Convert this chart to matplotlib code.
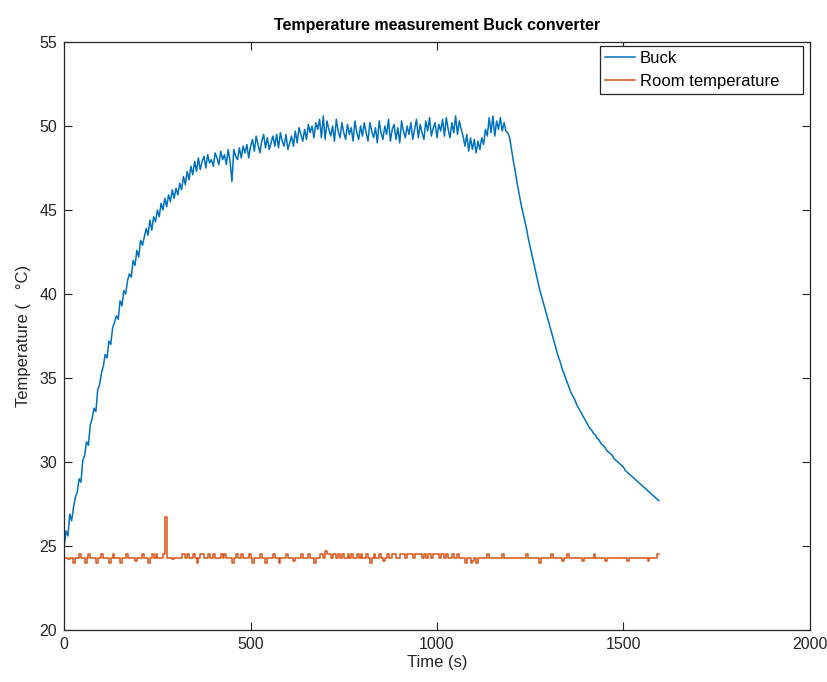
import numpy as np
import matplotlib.pyplot as plt

plt.rcParams['font.family'] = ['Liberation Sans', 'DejaVu Sans']

# logged every 5 s
dt = 5

buck = [
    25.0, 25.9, 25.6, 26.9, 26.5, 27.3, 27.9, 28.2, 29.0, 28.8, 30.1, 30.4, 31.2, 31.0, 32.2, 32.6, 33.2, 33.0, 34.3, 34.6,
    35.3, 35.7, 36.4, 36.2, 37.2, 37.0, 38.0, 38.3, 38.7, 38.5, 39.6, 39.3, 40.2, 40.0, 40.8, 41.2, 41.0, 42.0, 41.7, 42.6,
    42.2, 43.2, 42.9, 43.4, 43.9, 43.5, 44.4, 43.8, 44.6, 44.3, 45.0, 44.6, 45.4, 45.0, 45.7, 45.2, 45.9, 45.5, 46.2, 45.7,
    46.3, 45.9, 46.6, 46.2, 47.0, 46.5, 47.3, 46.8, 47.6, 47.1, 47.9, 47.3, 48.1, 47.4, 47.9, 48.2, 47.5, 48.3, 47.8, 48.0,
    47.6, 48.4, 48.1, 47.7, 48.5, 48.0, 48.3, 47.7, 48.6, 47.9, 46.7, 48.6, 48.2, 48.0, 48.7, 48.1, 48.8, 48.4, 48.9, 48.1,
    48.8, 49.2, 48.5, 49.4, 48.9, 48.4, 49.1, 49.5, 48.7, 49.3, 48.6, 49.0, 49.4, 48.8, 49.5, 48.7, 49.6, 49.1, 48.8, 49.5,
    48.6, 49.0, 49.4, 48.8, 49.7, 49.0, 49.9, 49.5, 49.1, 49.8, 49.2, 50.1, 49.6, 50.0, 49.3, 50.2, 49.8, 50.4, 49.3, 50.6,
    49.2, 50.3, 49.8, 49.4, 50.0, 49.1, 50.4, 49.7, 49.3, 50.2, 49.6, 49.2, 50.1, 49.5, 49.9, 49.1, 50.3, 49.6, 49.2, 50.0,
    49.4, 50.2, 49.6, 49.1, 50.2, 49.7, 49.3, 49.9, 49.0, 50.3, 49.6, 49.2, 50.0, 49.5, 50.4, 49.1, 49.8, 50.1, 49.2, 49.9,
    49.0, 50.3, 49.7, 49.3, 50.0, 49.5, 50.2, 49.2, 49.8, 50.4, 49.3, 50.1, 49.6, 49.2, 50.3, 49.7, 50.5, 49.4, 49.9, 50.2,
    49.3, 50.1, 49.7, 50.4, 49.4, 50.5, 49.8, 49.3, 50.2, 49.6, 50.6, 49.5, 50.3, 49.8, 49.4, 48.8, 49.5, 48.5, 49.3, 48.6,
    49.2, 48.4, 49.1, 48.6, 49.3, 48.9, 49.8, 49.4, 50.5, 49.6, 50.6, 49.4, 50.3, 49.8, 50.5, 49.7, 50.2, 49.7, 49.6, 49.3,
    48.6, 47.9, 47.3, 46.6, 46.0, 45.4, 44.9, 44.4, 43.9, 43.3, 42.8, 42.3, 41.8, 41.3, 40.8, 40.3, 39.9, 39.5, 39.1, 38.7,
    38.3, 37.9, 37.5, 37.1, 36.7, 36.3, 36.0, 35.6, 35.3, 35.0, 34.7, 34.4, 34.1, 33.9, 33.7, 33.4, 33.2, 33.0, 32.8, 32.6,
    32.4, 32.2, 32.0, 31.9, 31.7, 31.6, 31.4, 31.3, 31.1, 31.0, 30.9, 30.7, 30.6, 30.5, 30.4, 30.2, 30.1, 30.0, 29.9, 29.8,
    29.7, 29.5, 29.4, 29.3, 29.2, 29.1, 29.0, 28.9, 28.8, 28.7, 28.6, 28.5, 28.4, 28.3, 28.2, 28.1, 28.0, 27.9, 27.8, 27.7,
]

room = [
    24.3, 24.3, 24.2, 24.3, 24.3, 24.0, 24.3, 24.3, 24.5, 24.3, 24.3, 24.0, 24.3, 24.5, 24.3, 24.3, 24.3, 24.0, 24.3, 24.3,
    24.5, 24.3, 24.3, 24.3, 24.0, 24.3, 24.5, 24.3, 24.3, 24.3, 24.0, 24.3, 24.3, 24.5, 24.3, 24.3, 24.3, 24.3, 24.1, 24.3,
    24.3, 24.3, 24.5, 24.3, 24.3, 24.0, 24.3, 24.5, 24.3, 24.5, 24.3, 24.3, 24.3, 24.5, 26.7, 24.3, 24.3, 24.3, 24.2, 24.3,
    24.3, 24.3, 24.3, 24.5, 24.5, 24.3, 24.5, 24.3, 24.3, 24.5, 24.3, 24.0, 24.3, 24.5, 24.5, 24.3, 24.3, 24.5, 24.3, 24.3,
    24.5, 24.3, 24.3, 24.3, 24.5, 24.3, 24.5, 24.3, 24.3, 24.3, 24.0, 24.3, 24.5, 24.3, 24.3, 24.5, 24.3, 24.3, 24.3, 24.5,
    24.3, 24.0, 24.3, 24.3, 24.3, 24.5, 24.3, 24.3, 24.0, 24.3, 24.3, 24.3, 24.5, 24.3, 24.3, 24.0, 24.3, 24.3, 24.3, 24.5,
    24.3, 24.3, 24.3, 24.1, 24.3, 24.3, 24.3, 24.5, 24.3, 24.3, 24.3, 24.5, 24.3, 24.3, 24.0, 24.3, 24.3, 24.5, 24.5, 24.3,
    24.7, 24.5, 24.5, 24.3, 24.5, 24.5, 24.3, 24.5, 24.3, 24.5, 24.3, 24.3, 24.5, 24.3, 24.5, 24.3, 24.3, 24.5, 24.3, 24.5,
    24.3, 24.3, 24.5, 24.3, 24.0, 24.3, 24.5, 24.3, 24.3, 24.5, 24.3, 24.1, 24.3, 24.5, 24.3, 24.3, 24.5, 24.5, 24.3, 24.3,
    24.5, 24.5, 24.5, 24.3, 24.5, 24.5, 24.5, 24.3, 24.5, 24.5, 24.5, 24.5, 24.3, 24.5, 24.3, 24.5, 24.5, 24.3, 24.5, 24.5,
    24.5, 24.3, 24.5, 24.5, 24.3, 24.5, 24.3, 24.3, 24.5, 24.3, 24.3, 24.5, 24.3, 24.3, 24.3, 24.0, 24.3, 24.3, 24.0, 24.1,
    24.3, 24.0, 24.3, 24.3, 24.3, 24.3, 24.3, 24.5, 24.3, 24.3, 24.3, 24.3, 24.3, 24.3, 24.3, 24.5, 24.3, 24.3, 24.3, 24.3,
    24.3, 24.3, 24.3, 24.3, 24.3, 24.3, 24.3, 24.3, 24.5, 24.3, 24.3, 24.3, 24.3, 24.3, 24.3, 24.0, 24.3, 24.3, 24.3, 24.3,
    24.3, 24.5, 24.3, 24.3, 24.3, 24.3, 24.3, 24.1, 24.3, 24.3, 24.5, 24.3, 24.3, 24.3, 24.3, 24.3, 24.3, 24.3, 24.1, 24.3,
    24.3, 24.3, 24.3, 24.3, 24.5, 24.3, 24.3, 24.3, 24.3, 24.3, 24.1, 24.3, 24.3, 24.3, 24.3, 24.3, 24.3, 24.3, 24.3, 24.3,
    24.3, 24.3, 24.1, 24.3, 24.3, 24.3, 24.3, 24.3, 24.3, 24.3, 24.3, 24.3, 24.3, 24.1, 24.3, 24.3, 24.3, 24.3, 24.5, 24.5,
]

t = np.arange(len(buck)) * dt

fig = plt.figure(figsize=(8.28, 6.82), dpi=100)
ax = fig.add_axes([0.0775, 0.0762, 0.9005, 0.8622])

ax.plot(t, buck, color='#0072BD', lw=1.1, label='Buck')
ax.plot(t, room, color='#D95319', lw=1.1, drawstyle='steps-post', label='Room temperature')

ax.set_xlim(0, 2000)
ax.set_ylim(20, 55)
ax.set_xticks([0, 500, 1000, 1500, 2000])
ax.set_yticks(np.arange(20, 56, 5))
ax.tick_params(direction='in', length=5.5, width=0.8, top=True, right=True,
               labelsize=11.5, colors='#262626', pad=5)
for s in ax.spines.values():
    s.set_linewidth(0.9)
    s.set_color('#262626')

ax.set_title('Temperature measurement Buck converter', fontsize=11.5,
             fontweight='bold', pad=9)
ax.set_xlabel('Time (s)', fontsize=12, labelpad=2, color='#262626')
ax.set_ylabel('Temperature (   °C)', fontsize=12, labelpad=6, color='#262626')

# legend box stretched to a fixed width in the top-right corner
leg = ax.legend(loc='upper left', bbox_to_anchor=(0.7186, 0.9116, 0.2723, 0.0816),
                mode='expand', fontsize=12, fancybox=False, framealpha=1,
                edgecolor='#262626', borderpad=0.3, handlelength=1.8,
                handletextpad=0.3, labelspacing=0.45, borderaxespad=0)
leg.get_frame().set_linewidth(0.9)

plt.savefig('out.png', dpi=100)
plt.close()
